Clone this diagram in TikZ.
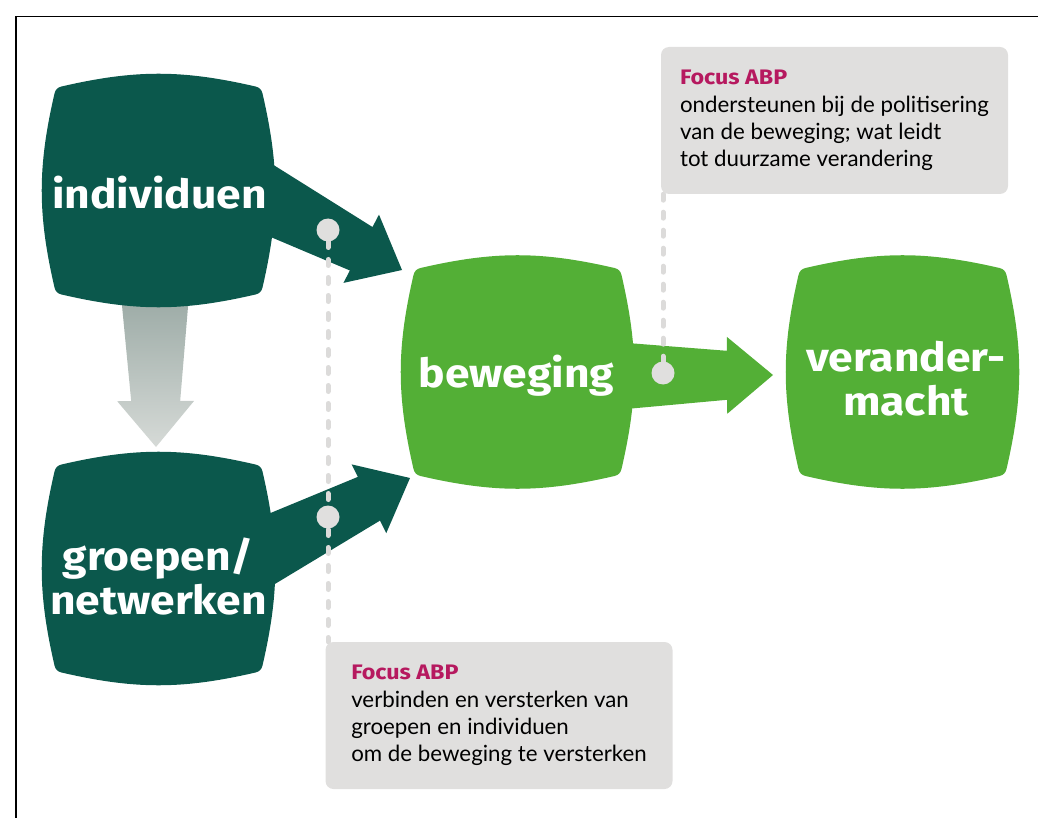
\documentclass[tikz,border=0pt]{standalone}
\usepackage{fontspec}
\setmainfont{Lato}
\newfontfamily\headfont{Fira Sans}[FakeStretch=1.11]
\usetikzlibrary{calc, positioning, backgrounds}

\definecolor{deepgreen}{HTML}{0B584C}
\definecolor{leafgreen}{HTML}{53AF36}
\definecolor{abpred}{HTML}{B6195F}
\definecolor{focusgray}{HTML}{E0DFDE}
\definecolor{guidegray}{HTML}{DCDBDA}
\definecolor{stemtop}{HTML}{9BAAA5}
\definecolor{stembottom}{HTML}{D6DAD7}

% fat tapered arrow: #1 fill options, #2 base, #3 tip
\newcommand{\fatarrow}[3]{%
  \coordinate (fa-h) at ($(#3)!46pt!(#2)$);
  \path[#1] ($(#2)!34pt!90:(#3)$) -- ($(fa-h)!24.5pt!90:(#3)$)
        -- ($(fa-h)!38.5pt!90:(#3)$) -- (#3)
        -- ($(fa-h)!38.5pt!-90:(#3)$) -- ($(fa-h)!24.5pt!-90:(#3)$)
        -- ($(#2)!34pt!-90:(#3)$) -- cycle;
}

\begin{document}
\begin{tikzpicture}[x=1pt, y=1pt,% styles used in image code
blob/.style = {minimum width=236pt, minimum height=236pt,
               inner sep=0pt, outer sep=0pt,
               path picture={\fill[#1, shift={(path picture bounding box.center)}]
                 (-97,104) to[out=13,in=167] (97,104) to[out=-13,in=103] (104,97)
                 to[out=-77,in=77] (104,-97) to[out=-103,in=13] (97,-104)
                 to[out=193,in=-13] (-97,-104) to[out=167,in=-77] (-104,-97)
                 to[out=103,in=-103] (-104,97) to[out=77,in=193] cycle;}},
head/.style = {text=white, align=center, inner sep=0pt,
               font=\headfont\bfseries\fontsize{40}{44}\selectfont},
focus/.style = {fill=focusgray, rounded corners=8pt, align=left,
               minimum width=347pt, minimum height=147pt, inner sep=0pt,
               font=\fontsize{22.3}{27.3}\selectfont},
dot/.style = {circle, fill=focusgray, minimum size=23pt,
              inner sep=0pt, outer sep=0pt, node contents={}},
guide/.style = {draw=guidegray, line width=5pt, line cap=round,
                dash pattern=on 6pt off 12pt}
                    ]
	\useasboundingbox (0,0) rectangle (1038,-818);
	% frame
	\draw[line width=1.4pt] (16,-818) -- (16,-16.5) -- (1038,-16.5);

	% blocks
	\node[blob=deepgreen] (ind) at (158.5,-190.5) {};
	\node[blob=deepgreen, below=142pt of ind] (grp) {};
	\node[blob=leafgreen] (bew) at (517.5,-372) {};
	\node[blob=leafgreen, right=149pt of bew] (vm) {};

	\node[head, anchor=base] (ind-txt) at ($(ind)+(1,-18.5)$) {individuen};
	\node[head] (grp-txt) at ($(grp)+(0,-8)$) {groepen/\\netwerken};
	\node[head, anchor=base] (bew-txt) at ($(bew)+(-1,-15)$) {beweging};
	\node[head] (vm-txt) at ($(vm)+(3.5,-7)$) {verander-\\macht};

	% focus notes
	\node[focus] (fA) at (834.5,-120.5)
	  {\textcolor{abpred}{\headfont\bfseries\fontsize{21}{27}\selectfont Focus ABP}\\
	   ondersteunen bij de politisering\\ van de beweging; wat leidt\\ tot duurzame verandering};
	\node[focus] (fB) at (499,-715.5)
	  {\textcolor{abpred}{\headfont\bfseries\fontsize{21}{27}\selectfont Focus ABP}\\
	   verbinden en versterken van\\ groepen en individuen\\ om de beweging te versterken};

	\node (c1) at (328,-230) [dot];
	\node (c2) at (328,-517) [dot];
	\node (c3) at (663,-373) [dot];

	% arrows
	\coordinate (ind-out) at ($(ind)+(97.5,-3.5)$);
	\coordinate (ind-down) at ($(ind)+(-3.5,-104.5)$);
	\coordinate (grp-out) at ($(grp)+(98,13)$);
	\coordinate (grp-in) at ($(grp)+(-2.5,121.5)$);
	\coordinate (bew-in1) at ($(bew)+(-115.5,102)$);
	\coordinate (bew-in2) at ($(bew)+(-107.5,-106)$);
	\coordinate (bew-out) at ($(bew)+(97.5,-4)$);
	\coordinate (vm-in) at ($(vm)+(-129.5,-3)$);
	\begin{scope}[on background layer]
	\fatarrow{top color=stemtop, bottom color=stembottom}{ind-down}{grp-in}
	\fatarrow{fill=deepgreen}{ind-out}{bew-in1}
	\fatarrow{fill=deepgreen}{grp-out}{bew-in2}
	\fatarrow{fill=leafgreen}{bew-out}{vm-in}
	\draw[guide] (c1) -- (c1 |- fB.north);
	\draw[guide] (fA.south -| c3) -- (c3);
	\end{scope}
\end{tikzpicture}
\end{document}
